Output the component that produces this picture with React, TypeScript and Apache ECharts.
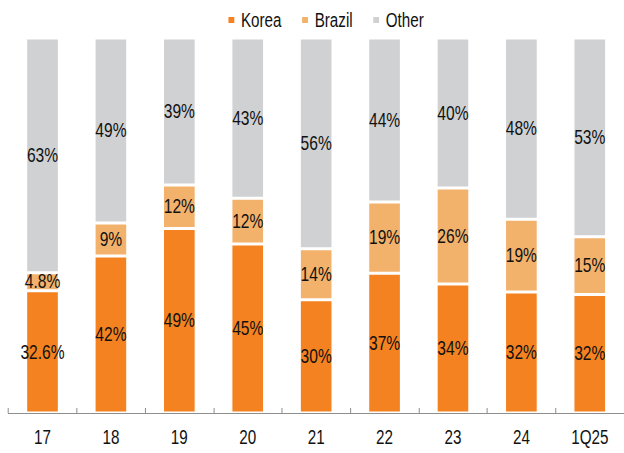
import React, { useEffect, useRef } from "react";
import * as echarts from "echarts";

const categories = ["17", "18", "19", "20", "21", "22", "23", "24", "1Q25"];
const korea = [32.6, 41.9, 49.2, 45.1, 30.2, 37.3, 34.4, 32.3, 31.6];
const brazil = [4.8, 8.8, 11.6, 12.2, 13.6, 19.0, 25.6, 19.4, 15.4];
const other = [62.6, 49.3, 39.2, 42.7, 56.2, 43.7, 40.0, 48.3, 53.0];
const koreaLabels = ["32.6%", "42%", "49%", "45%", "30%", "37%", "34%", "32%", "32%"];
const brazilLabels = ["4.8%", "9%", "12%", "12%", "14%", "19%", "26%", "19%", "15%"];
const otherLabels = ["63%", "49%", "39%", "43%", "56%", "44%", "40%", "48%", "53%"];

const FONT = "'Liberation Sans', Arial, sans-serif";
const W = 624;
const H = 453;
const SX = 0.78; // horizontal condensing factor (the reference uses a narrow face)
const IW = W / SX;

export default function App() {
  const ref = useRef<HTMLDivElement>(null);
  useEffect(() => {
    if (!ref.current) return;
    const chart = echarts.init(ref.current, undefined, { renderer: "svg" });
    const mk = (name: string, data: number[], labels: string[], color: string) => ({
      name,
      type: "bar",
      stack: "total",
      barWidth: 33 / SX,
      data,
      itemStyle: { color, borderColor: "#ffffff", borderWidth: 1.5 },
      label: {
        show: true,
        position: "inside",
        color: "#111111",
        fontFamily: FONT,
        fontSize: 20,
        formatter: (p: any) => labels[p.dataIndex],
      },
    });
    chart.setOption({
      animation: false,
      legend: {
        top: 5,
        left: 223 / SX,
        itemWidth: 7.4 / SX,
        itemHeight: 8,
        itemGap: 19 / SX,
        icon: "rect",
        textStyle: { fontFamily: FONT, fontSize: 19.5, color: "#111111", padding: [0, 0, 0, 2 / SX] },
        data: ["Korea", "Brazil", "Other"],
      },
      grid: { left: 8.3 / SX, right: -2.3 / SX, top: 38, bottom: 40, containLabel: false },
      xAxis: {
        type: "category",
        data: categories,
        axisLine: { show: true, lineStyle: { color: "#808080", width: 1 } },
        axisTick: { show: true, inside: true, length: 5, lineStyle: { color: "#808080" } },
        axisLabel: { color: "#111111", fontFamily: FONT, fontSize: 19.5, margin: 14 },
      },
      yAxis: {
        type: "value",
        min: 0,
        max: 100,
        show: false,
        splitLine: { show: false },
      },
      series: [
        mk("Korea", korea, koreaLabels, "#F58220"),
        mk("Brazil", brazil, brazilLabels, "#F2B26C"),
        mk("Other", other, otherLabels, "#D0D1D3"),
      ],
    });
    return () => chart.dispose();
  }, []);
  return (
    <div style={{ position: "absolute", left: 0, top: 0, width: W, height: H, overflow: "hidden", background: "#fff" }}>
      <div
        ref={ref}
        style={{ width: IW, height: H, transform: `scaleX(${SX})`, transformOrigin: "0 0" }}
      />
    </div>
  );
}
